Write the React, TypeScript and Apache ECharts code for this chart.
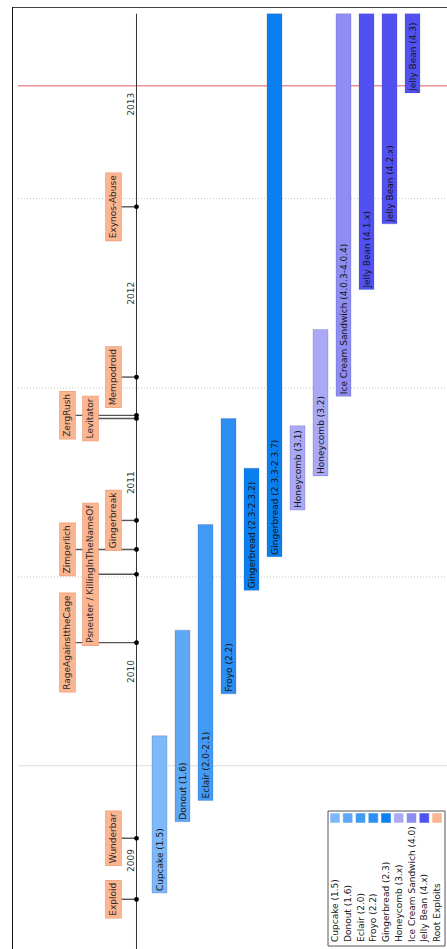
import React, { useEffect, useRef } from 'react';
import * as echarts from 'echarts';

// ---- Android versions (bars) ----
const versionNames = [
  'Cupcake (1.5)',
  'Donout (1.6)',
  'Eclair (2.0-2.1)',
  'Froyo (2.2)',
  'Gingerbread (2.3-2.3.2)',
  'Gingerbread (2.3.3-2.3.7)',
  'Honeycomb (3.1)',
  'Honeycomb (3.2)',
  'Ice Cream Sandwich (4.0.3-4.0.4)',
  'Jelly Bean (4.1.x)',
  'Jelly Bean (4.2.x)',
  'Jelly Bean (4.3)',
];
const versionStart = [
  '2009-04-30', '2009-09-15', '2009-10-26', '2010-05-20', '2010-12-06', '2011-02-09',
  '2011-05-10', '2011-07-15', '2011-12-16', '2012-07-09', '2012-11-13', '2013-07-24',
];
const versionEnd = [
  '2010-02-28', '2010-09-20', '2011-04-12', '2011-11-03', '2011-07-30', '2013-12-24',
  '2011-10-20', '2012-04-23', '2013-12-24', '2013-12-24', '2013-12-24', '2013-12-24',
];
const versionGroup = [0, 1, 2, 3, 4, 4, 5, 5, 6, 7, 7, 7];

// ---- Root exploits ----
const exploitNames = [
  'Exploid', 'Wunderbar', 'RageAgainsttheCage', 'Psneuter / KillingInTheNameOf', 'Zimperlich',
  'Gingerbreak', 'Levitator', 'ZergRush', 'Mempodroid', 'Exynos-Abuse',
];
const exploitDates = [
  '2009-04-18', '2009-08-14', '2010-08-27', '2011-01-06', '2011-02-23',
  '2011-04-20', '2011-11-03', '2011-11-09', '2012-01-22', '2012-12-16',
];
const exploitLanes = [-2, -2, -4, -3, -4, -2, -3, -4, -2, -2];

// ---- Legend ----
const legendNames = [
  'Cupcake (1.5)', 'Donout (1.6)', 'Eclair (2.0)', 'Froyo (2.2)', 'Gingerbread (2.3)',
  'Honeycomb (3.x)', 'Ice Cream Sandwich (4.0)', 'Jelly Bean (4.x)', 'Root Exploits',
];

// ---- Time axis ----
const yearLabels = ['2009', '2010', '2011', '2012', '2013'];
const yearLabelDates = ['2009-07-02', '2010-07-02', '2011-07-02', '2012-07-02', '2013-07-02'];
const yearBoundaries = ['2010-01-01', '2011-01-01', '2012-01-01', '2013-01-01'];
const todayDate = '2013-08-07';
const axisStart = '2009-01-12';
const axisEnd = '2014-01-06';
const timelineEnd = '2013-12-24';
const timelineLane = -1;
const laneMin = -6.413;
const laneMax = 12.5;

// styles
const groupColors = ['#7db9f8', '#5fa8f5', '#419af3', '#2a8ef3', '#0a7ff0', '#a9a9f6', '#8d8df2', '#5151f1', '#fbb590'];
const FONT = '9px "DejaVu Sans"';

const ts = (s: string) => +echarts.time.parse(s);

export default function App() {
  const ref = useRef<HTMLDivElement>(null);
  useEffect(() => {
    if (!ref.current) return;
    const chart = echarts.init(ref.current, null, { renderer: 'svg' });

    const barData = versionNames.map((_, i) => [i, ts(versionStart[i]), ts(versionEnd[i]), versionGroup[i]]);
    const exploitData = exploitNames.map((_, i) => [exploitLanes[i], ts(exploitDates[i])]);
    const yearData = yearLabels.map((_, i) => [timelineLane, ts(yearLabelDates[i])]);
    const boundaryData = yearBoundaries.map((d) => [timelineLane, ts(d)]);

    const legendX0 = 330;
    const legendStep = 12.75;
    const graphics: any[] = [
      // frame (top and left edges)
      { type: 'line', shape: { x1: 12, y1: 7.5, x2: 447, y2: 7.5 }, style: { stroke: '#444', lineWidth: 1 }, z: 50 },
      { type: 'line', shape: { x1: 12.5, y1: 7, x2: 12.5, y2: 949 }, style: { stroke: '#111', lineWidth: 1 }, z: 50 },
      {
        type: 'rect', x: 328, y: 811, shape: { x: 0, y: 0, width: 117, height: 135 },
        style: { fill: '#fff', stroke: '#555', lineWidth: 1 }, z: 100,
      },
    ];
    legendNames.forEach((n, i) => {
      graphics.push({
        type: 'rect', x: legendX0 + i * legendStep, y: 813,
        shape: { x: 0, y: 0, width: 10, height: 10 },
        style: { fill: groupColors[i], stroke: 'rgba(255,255,255,0.5)', lineWidth: 1 }, z: 101,
      });
      graphics.push({
        type: 'text', x: legendX0 + 5 + i * legendStep, y: 942, rotation: Math.PI / 2,
        style: { text: n, align: 'left', verticalAlign: 'middle', font: FONT, fill: '#222' }, z: 101,
      });
    });

    const option: any = {
      animation: false,
      backgroundColor: '#fff',
      grid: { left: 12, top: 7, right: 0, bottom: 0, show: false },
      xAxis: { type: 'value', min: laneMin, max: laneMax, show: false },
      yAxis: { type: 'time', min: ts(axisStart), max: ts(axisEnd), show: false },
      series: [
        // year boundary grid lines
        {
          type: 'custom', silent: true, z: 1, data: boundaryData, encode: { x: 0, y: 1 },
          renderItem: (params: any, api: any) => {
            const p = api.coord([api.value(0), api.value(1)]);
            const cs = params.coordSys;
            return {
              type: 'line',
              shape: { x1: cs.x + 6, y1: p[1], x2: cs.x + cs.width, y2: p[1] },
              style: params.dataIndex === 0
                ? { stroke: '#dcdcdc', lineWidth: 1 }
                : { stroke: '#c8c8c8', lineWidth: 1, lineDash: [1, 2] },
            };
          },
        },
        // today line
        {
          type: 'custom', silent: true, z: 1, data: [[timelineLane, ts(todayDate)]], encode: { x: 0, y: 1 },
          renderItem: (params: any, api: any) => {
            const p = api.coord([api.value(0), api.value(1)]);
            const cs = params.coordSys;
            return {
              type: 'line',
              shape: { x1: cs.x + 6, y1: p[1], x2: cs.x + cs.width, y2: p[1] },
              style: { stroke: '#ec9494', lineWidth: 1.5 },
            };
          },
        },
        // timeline axis
        {
          type: 'line', silent: true, z: 2, symbol: 'none',
          data: [[timelineLane, ts(axisStart)], [timelineLane, ts(timelineEnd)]],
          lineStyle: { color: '#333', width: 1 },
        },
        // year labels
        {
          type: 'custom', silent: true, z: 3, data: yearData, encode: { x: 0, y: 1 },
          renderItem: (params: any, api: any) => {
            const p = api.coord([api.value(0), api.value(1)]);
            return {
              type: 'text', x: p[0] - 5.5, y: p[1], rotation: Math.PI / 2,
              style: { text: yearLabels[params.dataIndex], align: 'center', verticalAlign: 'middle', font: FONT, fill: '#333' },
            };
          },
        },
        // version bars
        {
          type: 'custom', silent: true, z: 4, data: barData,
          dimensions: ['col', 'start', 'end', 'group'],
          encode: { x: 0, y: [1, 2] },
          renderItem: (params: any, api: any) => {
            const c = api.value(0);
            const p0 = api.coord([c, api.value(1)]);
            const p1 = api.coord([c, api.value(2)]);
            const w = api.size([0.652, 0])[0];
            const col = groupColors[api.value(3)];
            return {
              type: 'group',
              children: [
                {
                  type: 'rect',
                  shape: { x: p0[0] - w / 2, y: p1[1], width: w, height: p0[1] - p1[1] },
                  style: { fill: col, stroke: 'rgba(70,70,150,0.22)', lineWidth: 1 },
                },
                {
                  type: 'text', x: p0[0] + 0.5, y: p0[1] - 2, rotation: Math.PI / 2,
                  style: { text: versionNames[params.dataIndex], align: 'left', verticalAlign: 'middle', font: FONT, fill: '#151515' },
                },
              ],
            };
          },
        },
        // exploit connectors and dots
        {
          type: 'custom', silent: true, z: 5, data: exploitData, encode: { x: 0, y: 1 },
          renderItem: (params: any, api: any) => {
            const p = api.coord([api.value(0), api.value(1)]);
            const a = api.coord([timelineLane, api.value(1)]);
            return {
              type: 'group',
              children: [
                { type: 'line', shape: { x1: p[0] + 7, y1: p[1], x2: a[0], y2: a[1] }, style: { stroke: '#555', lineWidth: 1.4 } },
                { type: 'circle', shape: { cx: a[0], cy: a[1], r: 2.4 }, style: { fill: '#000' } },
              ],
            };
          },
        },
        // exploit boxes
        {
          type: 'custom', silent: true, z: 6, data: exploitData, encode: { x: 0, y: 1 },
          renderItem: (params: any, api: any) => {
            const p = api.coord([api.value(0), api.value(1)]);
            return {
              type: 'text', x: p[0], y: p[1], rotation: Math.PI / 2,
              style: {
                text: exploitNames[params.dataIndex], align: 'center', verticalAlign: 'middle', font: FONT, fill: '#2a2a2a',
                backgroundColor: groupColors[8], borderColor: '#eea37f', borderWidth: 0.8, padding: [3, 2, 3, 2],
              },
            };
          },
        },
      ],
      graphic: graphics,
    };
    chart.setOption(option);
    return () => chart.dispose();
  }, []);
  return <div ref={ref} style={{ position: 'fixed', left: 0, top: 0, width: 447, height: 949 }} />;
}
